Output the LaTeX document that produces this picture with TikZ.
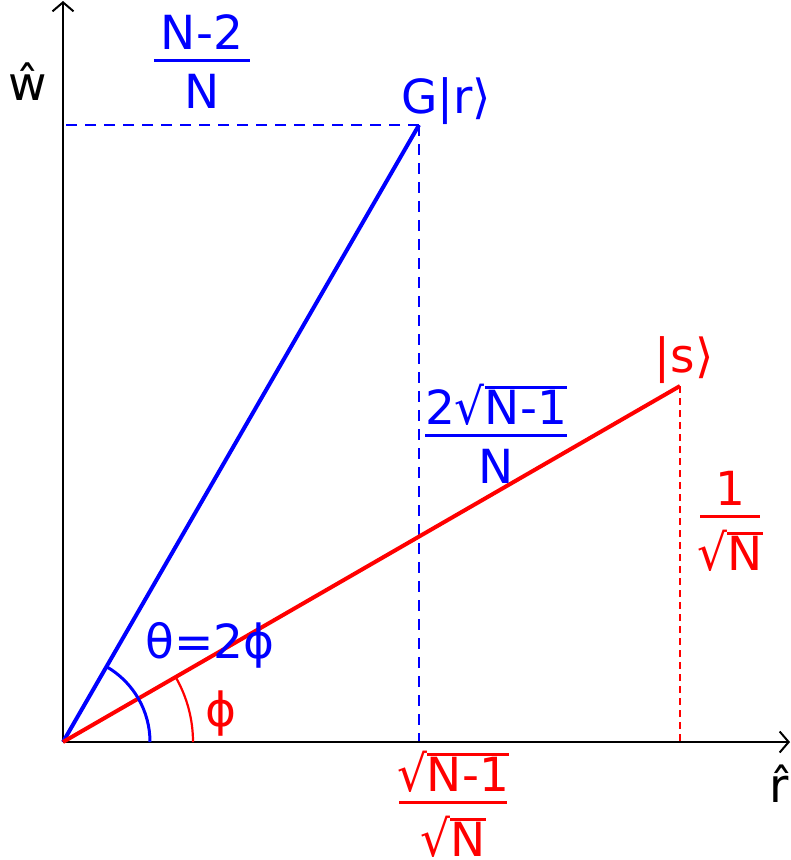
\documentclass[tikz,border=0pt]{standalone}
\usepackage{fontspec}
\setmainfont{DejaVu Sans}
\usetikzlibrary{arrows.meta}
\newcommand\frb[3][3pt]{\vbox{\halign{\hfil\kern#1##\kern#1\hfil\cr #2\cr\noalign{\kern9pt\hrule height3pt\kern12pt}#3\cr}}}
\newcommand\sqr[1]{\scalebox{1}[1.06]{√}\vbox{\hrule height3pt\kern1pt\hbox{#1}}}
\definecolor{myblue}{RGB}{0,0,255}
\definecolor{myred}{RGB}{255,0,0}
\begin{document}
\begin{tikzpicture}[x=1pt,y=-1pt,
  lbl/.style={inner sep=0pt,font=\fontsize{47}{56}\selectfont},
  axisline/.style={line width=2pt,-{Straight Barb[length=9pt,width=21pt]}},
  bvec/.style={myblue,line width=4pt},
  rvec/.style={myred,line width=4pt},
  bdash/.style={myblue,line width=2.5pt,dash pattern=on 11pt off 8pt},
  rdash/.style={myred,line width=2pt,dash pattern=on 7pt off 5pt},
  barc/.style={myblue,line width=3pt},
  rarc/.style={myred,line width=2.2pt}]
\useasboundingbox (0,0) rectangle (791,860);
\coordinate (O) at (63,742);
\coordinate (G) at (419,125);
\coordinate (S) at (680,386);
\coordinate (Gy) at (63,125);
\coordinate (Gx) at (419,742);
\coordinate (Sx) at (680,742);
\coordinate (Ytop) at (63,1);
\coordinate (Xend) at (790,742);
% dashed helpers
\draw[bdash] (G) -- (Gy);
\draw[bdash] (G) -- (Gx);
\draw[rdash] (S) -- (Sx);
% axes
\draw[axisline] (O) -- (Ytop);
\draw[axisline] (O) -- (Xend);
% vectors
\draw[bvec] (O) -- (G);
\draw[rvec] (O) -- (S);
% arcs
\draw[barc] (O) ++(87,0) arc[start angle=0,end angle=-60,radius=87];
\draw[rarc] (O) ++(130,0) arc[start angle=0,end angle=-30,radius=130];
% labels
\node[lbl,anchor=base] (wlab) at (28,100) {ŵ};
\node[lbl,anchor=base west] (rlab) at (769,802) {\^r};
\node[lbl,anchor=base,myblue] (Glab) at (446,113) {G|r⟩};
\node[lbl,anchor=base,myred] (Slab) at (684,372) {|s⟩};
\node[lbl,myblue] (f1) at (202,61.5) {\frb[7pt]{N-2}{N}};
\node[lbl,myblue] (f2) at (496,433.5) {\frb[0pt]{2\sqr{N-1}}{N}};
\node[lbl,myred] (f3) at (730,521.5) {\frb[-3pt]{1}{\sqr{N}}};
\node[lbl,myred] (f4) at (453,804) {\frb[-2pt]{\sqr{N-1}}{\sqr{N}}};
\node[lbl,anchor=base,myblue] (theta) at (210,658) {θ=2ϕ};
\node[lbl,anchor=base,myred] (phi) at (221,726) {ϕ};
\end{tikzpicture}
\end{document}
